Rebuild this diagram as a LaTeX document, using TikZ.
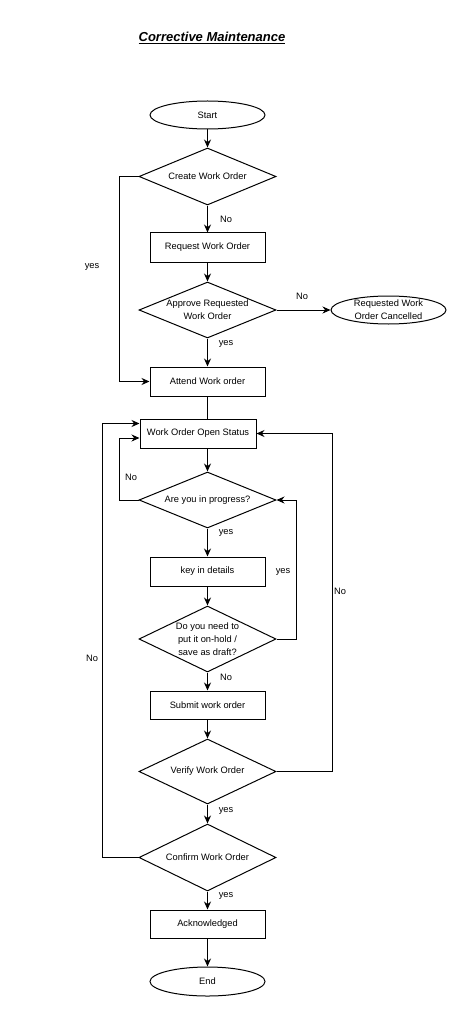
\documentclass[tikz,border=0pt]{standalone}
\usepackage{fontspec}
\setmainfont{Liberation Sans}
\usetikzlibrary{shapes.geometric,arrows.meta}

\begin{document}
\begin{tikzpicture}[
        x=1pt, y=-1pt,
        every node/.style={font=\fontsize{9.3}{13}\selectfont},
        term/.style={ellipse, draw=black, line width=1pt, minimum width=115pt, minimum height=28pt, inner ysep=-1pt, align=center},
        proc/.style={rectangle, draw=black, line width=1pt, minimum width=115pt, minimum height=29pt},
        dec/.style={diamond, draw=black, line width=1pt, aspect=2.4, inner sep=0pt, minimum width=137pt, align=center},
        lbl/.style={inner sep=0pt},
        flow/.style={->, >={Stealth[length=8pt,width=7pt]}, line width=1pt}
    ]
        \useasboundingbox (0,0) rectangle (466,1024);

        % Title
        \node (title) at (212,38) {\fontsize{13}{15}\selectfont\bfseries\itshape\underline{Corrective Maintenance}};

        % Nodes
        \node[term] (start) at (207.5,115) {Start};
        \node[dec, minimum height=57pt] (create) at (207.5,176.5) {Create Work Order};
        \node[proc] (request) at (207.5,247.5) {Request Work Order};
        \node[dec, minimum height=56pt] (approve) at (207.5,310) {Approve Requested\\Work Order};
        \node[term] (cancel) at (388.5,310) {Requested Work\\Order Cancelled};
        \node[proc] (attend) at (207.5,381.5) {Attend Work order};
        \node[proc, minimum width=116pt] (open) at (198,433.5) {Work Order Open Status};
        \node[dec, minimum height=56pt] (progress) at (207.5,500) {Are you in progress?};
        \node[proc] (details) at (207.5,571.5) {key in details};
        \node[dec, aspect=2.1, minimum height=66pt] (hold) at (207.5,639) {Do you need to\\put it on-hold /\\save as draft?};
        \node[proc, minimum height=28pt] (submit) at (207.5,705) {Submit work order};
        \node[dec, minimum height=65pt] (verify) at (207.5,771.5) {Verify Work Order};
        \node[dec, minimum height=67pt] (confirm) at (207.5,857.5) {Confirm Work Order};
        \node[proc, minimum height=28pt] (ack) at (207.5,924) {Acknowledged};
        \node[term, minimum height=29pt] (end) at (207.5,981.5) {End};

        % Edges
        \draw[flow] (start) -- (create);
        \draw[flow] (create) -- (request);
        \draw[flow] (request) -- (approve);
        \draw[flow] (approve) -- (cancel);
        \draw[flow] (approve) -- (attend);
        \draw[flow] (create.west) -- ++(-19,0) |- (attend.west);
        \draw[line width=1pt] (attend.south) -- (attend.south |- open.north);
        \draw[flow] (progress.north |- open.south) -- (progress.north);
        \draw[flow] (progress.west) -- ++(-19,0) |- ([yshift=-4.5pt]open.west);
        \draw[flow] (progress) -- (details);
        \draw[flow] (details) -- (hold);
        \draw[flow] (hold.east) -- ++(20,0) |- (progress.east);
        \draw[flow] (hold) -- (submit);
        \draw[flow] (submit) -- (verify);
        \draw[flow] (verify.east) -- ++(56,0) |- (open.east);
        \draw[flow] (verify) -- (confirm);
        \draw[flow] (confirm.west) -- ++(-36,0) |- ([yshift=10pt]open.west);
        \draw[flow] (confirm) -- (ack);
        \draw[flow] (ack) -- (end);

        % Labels
        \node[lbl] (l1) at (92,267) {yes};
        \node[lbl] (l2) at (226,219) {No};
        \node[lbl] (l3) at (302,296) {No};
        \node[lbl] (l4) at (226,344) {yes};
        \node[lbl] (l5) at (131,477) {No};
        \node[lbl] (l6) at (226,533) {yes};
        \node[lbl] (l7) at (283,572) {yes};
        \node[lbl] (l8) at (226,677) {No};
        \node[lbl] (l9) at (340,591) {No};
        \node[lbl] (l10) at (226,811) {yes};
        \node[lbl] (l11) at (92,658) {No};
        \node[lbl] (l12) at (226,896) {yes};

    \end{tikzpicture}
\end{document}
